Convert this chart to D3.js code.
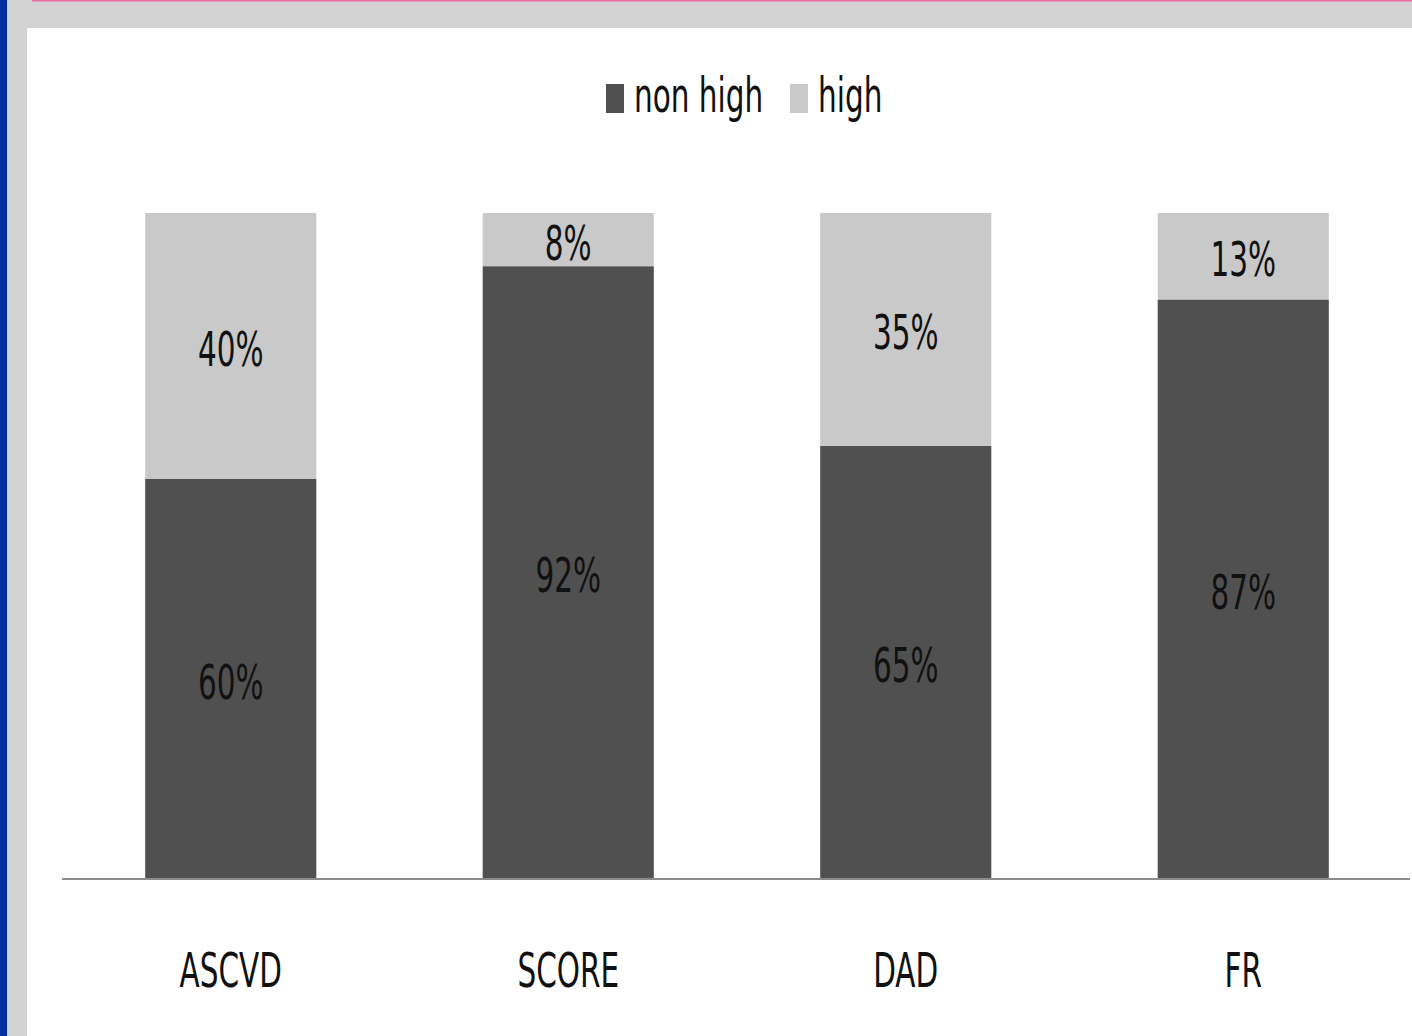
<!DOCTYPE html>
<html>
<head>
<meta charset="utf-8">
<script src="https://cdn.jsdelivr.net/npm/d3@7"></script>
<style>
  body { margin: 0; overflow: hidden; background: white; }
  text { font-family: "Liberation Sans Narrow", "DejaVu Sans Condensed", sans-serif; fill: #111; }
</style>
</head>
<body>
<script>
//Data
var categories = ["ASCVD", "SCORE", "DAD", "FR"];
var nonHigh = [60, 92, 65, 87];
var high = [40, 8, 35, 13];
var seriesNames = ["non high", "high"];

//Parameters
var w = 1412;
var h = 1036;
var darkColor = "#505050";
var lightColor = "#c9c9c9";
var frameColor = "#d3d3d3";
var squeeze = 0.82;
var stretch = 1.22;

var svg = d3.select("body").append("svg")
    .attr("width", w)
    .attr("height", h);

//Frame around the slide
svg.append("rect").attr("x", 0).attr("y", 0).attr("width", w).attr("height", h).attr("fill", frameColor);
svg.append("rect").attr("x", 0).attr("y", 0).attr("width", 7).attr("height", h).attr("fill", "#0033a0");
svg.append("rect").attr("x", 32).attr("y", 0).attr("width", w - 32).attr("height", 1.5).attr("fill", "#f06ca0");
svg.append("rect").attr("x", 27).attr("y", 28).attr("width", w - 27).attr("height", h - 28).attr("fill", "white");

//Scales
var x = d3.scaleBand()
    .domain(categories)
    .range([62, 1412])
    .paddingInner(0.493)
    .paddingOuter(0.2465);

var y = d3.scaleLinear()
    .domain([0, 100])
    .range([878, 213]);

var rows = categories.map(function (c, i) {
    return { cat: c, "non high": nonHigh[i], "high": high[i] };
});
var stacked = d3.stack().keys(seriesNames)(rows);
var color = d3.scaleOrdinal().domain(seriesNames).range([darkColor, lightColor]);

//Bars
var layers = svg.selectAll("g.layer")
    .data(stacked)
    .enter().append("g")
    .attr("class", "layer")
    .attr("fill", function (d) { return color(d.key); });

layers.selectAll("rect")
    .data(function (d) { return d; })
    .enter().append("rect")
    .attr("x", function (d) { return x(d.data.cat); })
    .attr("y", function (d) { return y(d[1]); })
    .attr("width", x.bandwidth())
    .attr("height", function (d) { return y(d[0]) - y(d[1]); });

//Text drawn narrow and tall, like the original
function stretchedText(g, px, py, size, str, anchor) {
    return g.append("text")
        .attr("transform", "translate(" + px + "," + py + ") scale(" + squeeze + "," + stretch + ")")
        .attr("text-anchor", anchor || "middle")
        .attr("font-size", size)
        .text(str);
}

//Value labels
stacked.forEach(function (layer) {
    layer.forEach(function (d) {
        var cx = x(d.data.cat) + x.bandwidth() / 2;
        var cy = (y(d[0]) + y(d[1])) / 2;
        stretchedText(svg, cx, cy + 20, 40, (d[1] - d[0]) + "%");
    });
});

//Axis line
svg.append("line")
    .attr("x1", 62).attr("x2", 1410)
    .attr("y1", y(0) + 1).attr("y2", y(0) + 1)
    .attr("stroke", "#8c8c8c")
    .attr("stroke-width", 2);

//Category labels
categories.forEach(function (c) {
    stretchedText(svg, x(c) + x.bandwidth() / 2, 987, 40, c);
});

//Legend
var legendItems = [
    { name: "non high", x: 606 },
    { name: "high", x: 790 }
];
legendItems.forEach(function (d) {
    svg.append("rect")
        .attr("x", d.x).attr("y", 84)
        .attr("width", 18).attr("height", 29)
        .attr("fill", color(d.name));
    stretchedText(svg, d.x + 28, 112, 40, d.name, "start");
});
</script>
</body>
</html>
